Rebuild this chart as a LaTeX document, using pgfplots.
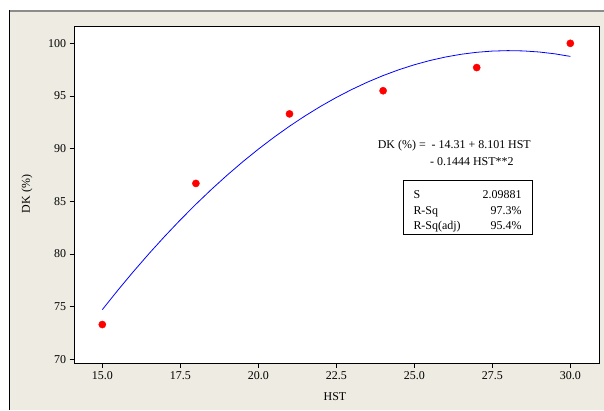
\documentclass[border=0pt]{standalone}
\usepackage{fontspec}
\setmainfont{Liberation Serif}
\usepackage{pgfplots}
\pgfplotsset{compat=1.18}
\definecolor{bgbeige}{RGB}{238,235,226}
\begin{document}
\begin{tikzpicture}[x=1bp,y=1bp,font=\fontsize{12}{14}\selectfont]
\useasboundingbox (0,0) rectangle (604,410);
\fill[bgbeige] (9,0) rectangle (604,399);
\draw[black!45,line width=1.2bp] (604,399) -- (9,399);
\draw[black,line width=1bp] (9,399.6) -- (9,0);
\begin{axis}[
  at={(74bp,46.7bp)}, anchor=south west,
  width=525bp, height=336.6bp, scale only axis,
  xmin=14.093, xmax=30.92, ymin=69.62, ymax=101.58,
  axis background/.style={fill=white},
  axis line style={black, line width=0.8pt},
  xtick={15,17.5,20,22.5,25,27.5,30},
  ytick={70,75,80,85,90,95,100},
  xtick pos=left, ytick pos=left,
  tick align=outside, major tick length=4.5bp,
  tick style={black, line width=0.8pt},
  xticklabel style={/pgf/number format/fixed,/pgf/number format/precision=1,/pgf/number format/fixed zerofill},
  /pgf/number format/assume math mode=true,
  ticklabel style={font=\fontsize{12}{14}\selectfont},
  clip=false,
]
\addplot[blue, line width=0.8pt] coordinates {
(15,74.715) (15.5,76.5634) (16,78.3396) (16.5,80.0436) (17,81.6754) (17.5,83.2350)
(18,84.7224) (18.5,86.1376) (19,87.4806) (19.5,88.7514) (20,89.95) (20.5,91.0764)
(21,92.1306) (21.5,93.1126) (22,94.0224) (22.5,94.86) (23,95.6254) (23.5,96.3186)
(24,96.9396) (24.5,97.4884) (25,97.965) (25.5,98.3694) (26,98.7016) (26.5,98.9616)
(27,99.1494) (27.5,99.265) (28,99.3084) (28.5,99.2796) (29,99.1786) (29.5,99.0054)
(30,98.76)};
\addplot[only marks, mark=*, mark size=3.6pt, color=red, mark options={fill=red, draw=red}] coordinates {
(15,73.3) (18,86.7) (21,93.3) (24,95.5) (27,97.7) (30,100.0)};
\end{axis}
\node[rotate=90] at (27,216) {DK (\%)};
\node at (335,13.3) {HST};
\node[anchor=base east, inner sep=0pt] at (531,262) {DK (\%) = \ - 14.31 + 8.101 HST};
\node[anchor=base west, inner sep=0pt] at (430,244.3) {- 0.1444 HST**2};
\draw[black, line width=0.8pt] (403.3,176) rectangle (532.7,230);
\node[anchor=base west, inner sep=0pt] at (413.3,211.7) {S};
\node[anchor=base west, inner sep=0pt] at (413.3,195.7) {R-Sq};
\node[anchor=base west, inner sep=0pt] at (413.3,180.7) {R-Sq(adj)};
\node[anchor=base east, inner sep=0pt] at (521.7,211.7) {2.09881};
\node[anchor=base east, inner sep=0pt] at (521.7,195.7) {97.3\%};
\node[anchor=base east, inner sep=0pt] at (521.7,180.7) {95.4\%};
\end{tikzpicture}
\end{document}
